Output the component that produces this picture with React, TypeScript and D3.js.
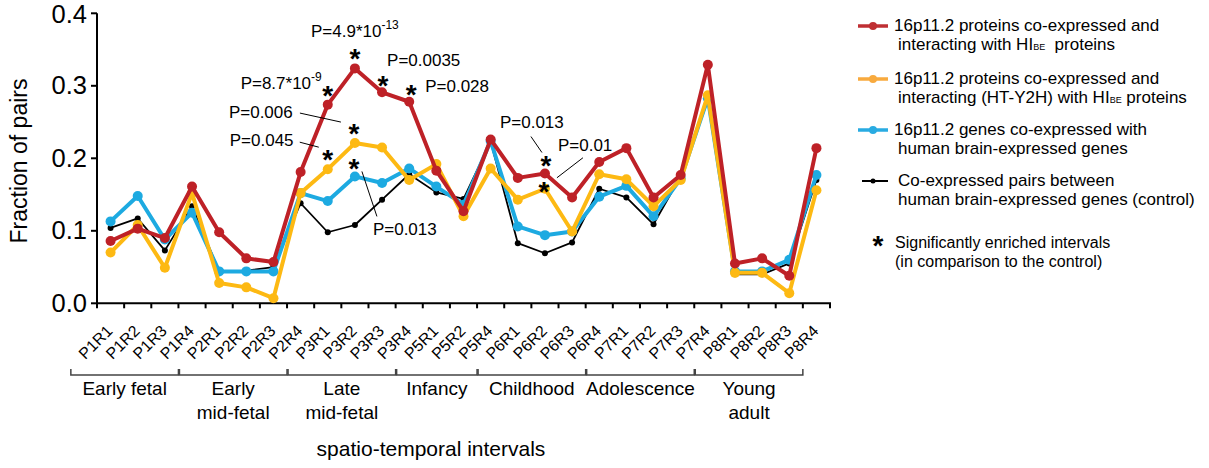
import React from 'react';
import * as d3 from 'd3';

const categories = [
  'P1R1', 'P1R2', 'P1R3', 'P1R4', 'P2R1', 'P2R2', 'P2R3', 'P2R4',
  'P3R1', 'P3R2', 'P3R3', 'P3R4', 'P5R1', 'P5R2', 'P5R4',
  'P6R1', 'P6R2', 'P6R3', 'P6R4', 'P7R1', 'P7R2', 'P7R3', 'P7R4',
  'P8R1', 'P8R2', 'P8R3', 'P8R4',
];

// 16p11.2 proteins co-expressed and interacting with HI_BE proteins
const hiBeValues = [
  0.086, 0.103, 0.09, 0.161, 0.098, 0.062, 0.057, 0.181,
  0.274, 0.324, 0.291, 0.278, 0.183, 0.127, 0.226,
  0.173, 0.179, 0.146, 0.195, 0.214, 0.146, 0.177, 0.329,
  0.055, 0.062, 0.038, 0.214,
];
// interacting (HT-Y2H)
const y2hValues = [
  0.07, 0.108, 0.049, 0.152, 0.028, 0.022, 0.007, 0.152,
  0.185, 0.221, 0.215, 0.17, 0.192, 0.12, 0.186,
  0.143, 0.158, 0.099, 0.178, 0.171, 0.134, 0.17, 0.287,
  0.042, 0.042, 0.014, 0.156,
];
// 16p11.2 genes co-expressed with brain-expressed genes
const genesValues = [
  0.113, 0.148, 0.088, 0.125, 0.044, 0.044, 0.044, 0.152,
  0.141, 0.175, 0.166, 0.186, 0.161, 0.136, 0.224,
  0.106, 0.094, 0.099, 0.147, 0.162, 0.12, 0.172, 0.283,
  0.044, 0.044, 0.06, 0.177,
];
// control
const controlValues = [
  0.104, 0.117, 0.073, 0.134, 0.044, 0.045, 0.05, 0.138,
  0.098, 0.108, 0.143, 0.178, 0.153, 0.144, 0.223,
  0.083, 0.069, 0.084, 0.158, 0.146, 0.109, 0.175, 0.28,
  0.04, 0.04, 0.055, 0.17,
];

const yTicks = [0, 0.1, 0.2, 0.3, 0.4];

const groups = [
  { label: ['Early fetal'], from: 'P1R1', to: 'P1R4' },
  { label: ['Early', 'mid-fetal'], from: 'P2R1', to: 'P2R4' },
  { label: ['Late', 'mid-fetal'], from: 'P3R1', to: 'P3R4' },
  { label: ['Infancy'], from: 'P5R1', to: 'P5R4' },
  { label: ['Childhood'], from: 'P6R1', to: 'P6R4' },
  { label: ['Adolescence'], from: 'P7R1', to: 'P7R4' },
  { label: ['Young', 'adult'], from: 'P8R1', to: 'P8R4' },
];

const RED = '#BE2127';
const GOLD = '#FDB913';
const BLUE = '#1DAAE1';
const FONT = '"Liberation Sans", Arial, Helvetica, sans-serif';

const series = [
  { key: 'control', values: controlValues, color: '#000', width: 1.8, r: 3 },
  { key: 'genes', values: genesValues, color: BLUE, width: 4, r: 5 },
  { key: 'y2h', values: y2hValues, color: GOLD, width: 4, r: 5 },
  { key: 'hibe', values: hiBeValues, color: RED, width: 4, r: 5 },
];

// significance stars: category, series, offset from the point
const stars = [
  { cat: 'P3R1', s: 'hibe', dx: 0, dy: -15 },
  { cat: 'P3R2', s: 'hibe', dx: 0, dy: -15 },
  { cat: 'P3R3', s: 'hibe', dx: 1, dy: -12 },
  { cat: 'P3R4', s: 'hibe', dx: 2, dy: -13 },
  { cat: 'P3R2', s: 'y2h', dx: -1, dy: -15 },
  { cat: 'P3R1', s: 'y2h', dx: 0, dy: -15 },
  { cat: 'P3R2', s: 'genes', dx: -1, dy: -13 },
  { cat: 'P6R2', s: 'hibe', dx: 1, dy: -14 },
  { cat: 'P6R2', s: 'y2h', dx: -1, dy: -3 },
];

// p-value labels, positioned relative to a point
const pLabels = [
  { cat: 'P3R1', s: 'hibe', text: 'P=8.7*10', sup: '-9', anchor: 'end', dx: -6, dy: -16 },
  { cat: 'P3R2', s: 'hibe', text: 'P=4.9*10', sup: '-13', anchor: 'middle', dx: 0, dy: -31 },
  { cat: 'P3R3', s: 'hibe', text: 'P=0.0035', anchor: 'start', dx: 5, dy: -26 },
  { cat: 'P3R4', s: 'hibe', text: 'P=0.028', anchor: 'start', dx: 16, dy: -10 },
  { cat: 'P3R2', s: 'y2h', text: 'P=0.006', anchor: 'start', dx: -126, dy: -25,
    line: [-55, -30, -14, -21] },
  { cat: 'P3R1', s: 'y2h', text: 'P=0.045', anchor: 'start', dx: -98, dy: -23,
    line: [-28, -27, -9, -22] },
  { cat: 'P3R2', s: 'genes', text: 'P=0.013', anchor: 'start', dx: 18, dy: 59,
    line: [7, -5, 22, 40] },
  { cat: 'P6R2', s: 'hibe', text: 'P=0.013', anchor: 'start', dx: -45, dy: -46,
    line: [-14, -37, -3, -21] },
  { cat: 'P6R2', s: 'y2h', text: 'P=0.01', anchor: 'start', dx: 13, dy: -38,
    line: [38, -31, 12, -11] },
];

const legendItems = [
  { color: '#BF2F33', r: 4, w: 3.5, y: 26, lines: [['16p11.2 proteins co-expressed and'], ['interacting with HI', 'BE', '  proteins']] },
  { color: '#F8AA3E', r: 4, w: 3.5, y: 79, lines: [['16p11.2 proteins co-expressed and'], ['interacting (HT-Y2H) with HI', 'BE', ' proteins']] },
  { color: '#29ABE2', r: 4, w: 3.5, y: 130, lines: [['16p11.2 genes co-expressed with'], ['human brain-expressed genes']] },
  { color: '#000', r: 2.5, w: 2, y: 181, lines: [['Co-expressed pairs between'], ['human brain-expressed genes (control)']] },
];

export default function App() {
  const width = 1209;
  const height = 468;
  const x = d3.scaleBand().domain(categories).range([97, 830]);
  const y = d3.scaleLinear().domain([0, 0.4]).range([303.3, 13.3]);
  const bw = x.bandwidth();
  const cx = (c: string) => (x(c) as number) + bw / 2;
  const byKey: Record<string, number[]> = {};
  series.forEach((s) => { byKey[s.key] = s.values; });
  const pt = (c: string, s: string) => [cx(c), y(byKey[s][categories.indexOf(c)])];

  const line = d3.line<number>()
    .x((_, i) => cx(categories[i]))
    .y((d) => y(d));

  const boundaries = d3.range(categories.length + 1).map((i) => 97 + i * bw);

  return (
    <svg width={width} height={height} style={{ position: 'absolute', left: 0, top: 0, background: '#fff' }}
      fontFamily={FONT}>
      {/* axes */}
      <line x1={97} x2={97} y1={y(0.4)} y2={y(0) + 1} stroke="#000" strokeWidth={2} />
      <line x1={96} x2={831} y1={y(0)} y2={y(0)} stroke="#000" strokeWidth={2} />
      {yTicks.map((t) => (
        <g key={t}>
          <line x1={91} x2={97} y1={y(t)} y2={y(t)} stroke="#000" strokeWidth={2} />
          <text x={87} y={Math.max(y(t) + 8.5, 23)} textAnchor="end" fontSize={25.5}>{t.toFixed(1)}</text>
        </g>
      ))}
      {boundaries.map((b, i) => (
        <line key={i} x1={b} x2={b} y1={y(0)} y2={y(0) + 5} stroke="#000" strokeWidth={2} />
      ))}
      {categories.map((c) => (
        <text key={c} transform={`translate(${cx(c) + 3},332) rotate(-45)`} textAnchor="end" fontSize={16}>{c}</text>
      ))}
      <text transform="translate(27,161) rotate(-90)" textAnchor="middle" fontSize={23}>Fraction of pairs</text>

      {/* group brackets */}
      {groups.map((g) => {
        const x0 = (x(g.from) as number) - bw + 1;
        const x1 = (x(g.to) as number);
        const mid = (x0 + x1) / 2;
        return (
          <g key={g.from}>
            <path d={`M${x0},369V375H${x1}V369`} fill="none" stroke="#444" strokeWidth={1.5} />
            {g.label.map((l, i) => (
              <text key={i} x={mid} y={395 + i * 24} textAnchor="middle" fontSize={19}>{l}</text>
            ))}
          </g>
        );
      })}
      <text x={431} y={456} textAnchor="middle" fontSize={21}>spatio-temporal intervals</text>

      {/* series */}
      {series.map((s) => (
        <g key={s.key}>
          <path d={line(s.values) || ''} fill="none" stroke={s.color} strokeWidth={s.width} strokeLinejoin="round" />
          {s.values.map((v, i) => (
            <circle key={i} cx={cx(categories[i])} cy={y(v)} r={s.r} fill={s.color} />
          ))}
        </g>
      ))}

      {/* stars */}
      {stars.map((st, i) => {
        const [px, py] = pt(st.cat, st.s);
        return (
          <text key={i} x={px + st.dx} y={py + st.dy + 15} textAnchor="middle" fontSize={28} fontWeight="bold">*</text>
        );
      })}

      {/* p-value labels */}
      {pLabels.map((p, i) => {
        const [px, py] = pt(p.cat, p.s);
        return (
          <g key={i}>
            <text x={px + p.dx} y={py + p.dy} textAnchor={p.anchor} fontSize={17}>
              {p.text}
              {p.sup && <tspan fontSize={12} dy={-8}>{p.sup}</tspan>}
            </text>
            {p.line && (
              <line x1={px + p.line[0]} y1={py + p.line[1]} x2={px + p.line[2]} y2={py + p.line[3]}
                stroke="#000" strokeWidth={1} />
            )}
          </g>
        );
      })}

      {/* legend */}
      {legendItems.map((l, i) => (
        <g key={i}>
          <line x1={i === 3 ? 862 : 858} x2={888} y1={l.y} y2={l.y} stroke={l.color} strokeWidth={l.w} />
          <circle cx={873} cy={l.y} r={l.r} fill={l.color} />
          {l.lines.map((parts, j) => (
            <text key={j} x={j === 0 && i < 3 ? 894 : 898} y={l.y + 4.5 + j * 19.5} fontSize={17}>
              {parts.length === 1 ? parts[0] : (
                <>
                  {parts[0]}
                  <tspan fontSize={9}>{parts[1]}</tspan>
                  <tspan fontSize={17} xmlSpace="preserve">{parts[2]}</tspan>
                </>
              )}
            </text>
          ))}
        </g>
      ))}
      <text x={878} y={255} textAnchor="middle" fontSize={28} fontWeight="bold">*</text>
      <text x={895} y={248} fontSize={16}>Significantly enriched intervals</text>
      <text x={895} y={267} fontSize={16}>(in comparison to the control)</text>
    </svg>
  );
}
